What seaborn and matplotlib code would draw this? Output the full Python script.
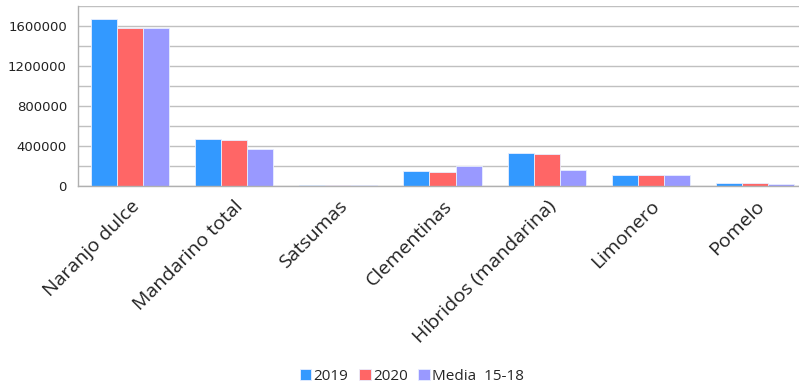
import numpy as np
import matplotlib
matplotlib.use("Agg")
import matplotlib.pyplot as plt
import seaborn as sns
import pandas as pd

# datos (toneladas)
categorias = ["Naranjo dulce", "Mandarino total", "Satsumas", "Clementinas",
              "Híbridos (mandarina)", "Limonero", "Pomelo"]
series = ["2019", "2020", "Media  15-18"]
valores_2019 = [1667000, 475000, 10000, 150000, 328000, 110000, 30000]
valores_2020 = [1583000, 462000, 8000, 140000, 320000, 110000, 28000]
valores_media = [1580000, 368000, 15000, 205000, 157000, 110000, 20000]
colores = ["#3399ff", "#ff6666", "#9999ff"]

sns.set_style("white")
plt.rcParams['font.family'] = ['DejaVu Sans']

df = pd.DataFrame({
    "categoria": categorias * 3,
    "serie": [series[0]] * 7 + [series[1]] * 7 + [series[2]] * 7,
    "valor": valores_2019 + valores_2020 + valores_media,
})

fig = plt.figure(figsize=(7.99, 3.87), dpi=100)
ax = fig.add_axes([78 / 799, 1 - 186 / 387, (807 - 78) / 799, 180 / 387])

sns.barplot(data=df, x="categoria", y="valor", hue="serie", order=categorias,
            hue_order=series, palette=colores, saturation=1, width=0.75, gap=0,
            edgecolor="#e8eeff", linewidth=0.6, ax=ax, legend=True)

ax.set_ylim(0, 1800000)
ax.set_xlim(-0.5, 6.5)
ax.set_yticks(np.arange(0, 1800001, 200000), minor=False)
ax.set_yticklabels([f"{int(v)}" if v % 400000 == 0 else "" for v in np.arange(0, 1800001, 200000)],
                   fontsize=9.5, color="#222222")
ax.yaxis.grid(True, color="#c0c0c0", linewidth=1)
ax.set_axisbelow(True)

ax.set_xticks(range(len(categorias)))
ax.set_xticklabels(categorias, rotation=45, ha="right", rotation_mode="anchor",
                   fontsize=14, family=["Open Sans", "DejaVu Sans"], color="#222222")
ax.set_xticks(np.arange(-0.5, 7, 1), minor=True)
ax.tick_params(axis="x", which="major", length=0, pad=8)
ax.tick_params(axis="x", which="minor", length=5, color="#b0b0b0", width=1)
ax.tick_params(axis="y", length=5, color="#b0b0b0", width=1, pad=3)
ax.set_xlabel("")
ax.set_ylabel("")

for lado in ["top", "right"]:
    ax.spines[lado].set_visible(False)
for lado in ["left", "bottom"]:
    ax.spines[lado].set_color("#b0b0b0")
    ax.spines[lado].set_linewidth(1)

handles, labels = ax.get_legend_handles_labels()
ax.get_legend().remove()
fig.legend(handles, labels, loc="center", bbox_to_anchor=(412 / 799, 1 - 376 / 387),
           ncol=3, frameon=False, handlelength=0.75, handleheight=0.75,
           handletextpad=0.15, columnspacing=0.7,
           prop={"family": ["Open Sans", "DejaVu Sans"], "size": 11})

fig.savefig("out.png", dpi=100)
